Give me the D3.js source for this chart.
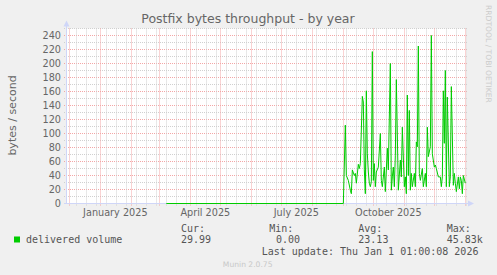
<!DOCTYPE html>
<html>
<head>
<meta charset="utf-8">
<script src="https://cdn.jsdelivr.net/npm/d3@7"></script>
<style>
  html, body { margin: 0; padding: 0; background: #f0f0f0; }
  svg { display: block; }
</style>
</head>
<body>
<div id="chart"></div>
<script>
// ── data (bytes / second, daily averages, day offset from 1 Sep 2025) ──
var seriesStart = '2025-09-01';
var zeroSince = '2025-03-08';        // flat zero from here up to seriesStart
var dayOffsets = [0, 2, 3, 5, 7, 8, 9, 11, 12, 13, 15, 16, 17, 19, 20, 21, 22, 23, 24, 25, 26, 27, 28,
  29, 30, 31, 32, 33, 35, 37, 38, 39, 41, 42, 44, 45, 47, 48, 49, 50, 51, 52, 53, 55, 57, 58, 59,
  61, 62, 63, 64, 65, 66, 67, 68, 69, 71, 72, 73, 74, 75, 76, 77, 79, 80, 82, 83, 84, 85, 87, 88,
  89, 91, 92, 93, 95, 97, 98, 99, 100, 101, 102, 103, 104, 106, 107, 108, 110, 111, 112, 113,
  115, 116, 117, 118, 119, 120, 122];
var values = [0, 112, 40, 33, 19, 14, 48, 40, 43, 29, 56, 50, 57, 153, 145, 48, 14, 161, 71, 45, 29, 24, 31,
  217, 33, 57, 24, 45, 52, 100, 33, 24, 52, 17, 79, 48, 200, 19, 38, 52, 24, 69, 177, 19, 62, 38, 109,
  24, 38, 14, 155, 40, 133, 19, 43, 24, 43, 24, 88, 81, 225, 43, 33, 50, 24, 43, 24, 109, 67, 81, 240,
  71, 52, 55, 50, 38, 38, 24, 38, 161, 86, 190, 24, 152, 24, 38, 167, 26, 43, 29, 17,
  38, 21, 38, 33, 14, 40, 29];

var yTicks = [0, 20, 40, 60, 80, 100, 120, 140, 160, 180, 200, 220, 240];
var monthLabels = ['2025-01-01', '2025-04-01', '2025-07-01', '2025-10-01'];
var legendHead = ['Cur:', 'Min:', 'Avg:', 'Max:'];
var legendVals = ['29.99', '0.00', '23.13', '45.83k'];

// ── layout ──
var W = 497, H = 275;
var X0 = 67, X1 = 467, Y0 = 203.5, Y1 = 28.5;
var graphEnd = new Date(Date.UTC(2026, 0, 2, 16, 0, 0));
var graphStart = new Date(graphEnd.getTime() - 400 * 864e5);
var FONT = '#666666', AXIS = '#cfd6f8';
var sans = 'DejaVu Sans, sans-serif', mono = 'DejaVu Sans Mono, monospace';

var parse = d3.utcParse('%Y-%m-%d');
var x = d3.scaleUtc().domain([graphStart, graphEnd]).range([X0, X1]);
var y = d3.scaleLinear().domain([0, 250]).range([Y0, Y1]);

var svg = d3.select('#chart').append('svg').attr('width', W).attr('height', H);
svg.append('rect').attr('width', W).attr('height', H).attr('fill', '#f0f0f0');
svg.append('rect').attr('x', X0).attr('y', Y1).attr('width', X1 - X0).attr('height', Y0 - Y1)
  .attr('fill', '#ffffff');

var crisp = function(v) { return Math.round(v - 0.5) + 0.5; };

// horizontal grid
var minorY = d3.range(0, 251, 10).filter(function(v) { return v % 20 !== 0; });
svg.append('g').selectAll('line').data(minorY).join('line')
  .attr('x1', X0 - 3).attr('x2', X1)
  .attr('y1', function(d) { return crisp(y(d)); }).attr('y2', function(d) { return crisp(y(d)); })
  .attr('stroke', '#d0d0d0').attr('stroke-dasharray', '1,1');
svg.append('g').selectAll('line').data(yTicks).join('line')
  .attr('x1', X0 - 3).attr('x2', X1)
  .attr('y1', function(d) { return crisp(y(d)); }).attr('y2', function(d) { return crisp(y(d)); })
  .attr('stroke', '#f3a6a6').attr('stroke-dasharray', '1,1');

// vertical grid: every 10 days (minor), months (major)
var months = d3.utcMonth.range(graphStart, graphEnd);
var tenDays = d3.utcDay.every(1).range(d3.utcDay.floor(graphStart), graphEnd)
  .filter(function(d, i) { return i % 10 === 0 && d >= graphStart; })
  .filter(function(d) {
    return months.every(function(m) { return Math.abs(x(m) - x(d)) >= 1; });
  });
svg.append('g').selectAll('line').data(tenDays).join('line')
  .attr('x1', function(d) { return crisp(x(d)); }).attr('x2', function(d) { return crisp(x(d)); })
  .attr('y1', Y1).attr('y2', Y0 + 3)
  .attr('stroke', '#d0d0d0').attr('stroke-dasharray', '1,1');
svg.append('g').selectAll('line').data(months).join('line')
  .attr('x1', function(d) { return crisp(x(d)); }).attr('x2', function(d) { return crisp(x(d)); })
  .attr('y1', Y1).attr('y2', Y0 + 3)
  .attr('stroke', '#f3a6a6').attr('stroke-dasharray', '1,1');

// axes + arrows
svg.append('line').attr('x1', X0 - 0.5).attr('x2', X0 - 0.5).attr('y1', Y0 + 0.5).attr('y2', Y1 - 4)
  .attr('stroke', AXIS);
svg.append('line').attr('x1', X0 - 3).attr('x2', X1 + 4).attr('y1', Y0).attr('y2', Y0)
  .attr('stroke', AXIS);
svg.append('path').attr('d', 'M' + (X0 - 3.5) + ',' + (Y1 - 2) + 'L' + (X0 - 0.5) + ',' + (Y1 - 8) +
  'L' + (X0 + 2.5) + ',' + (Y1 - 2) + 'Z').attr('fill', AXIS);
svg.append('path').attr('d', 'M' + (X1 + 1) + ',' + (Y0 - 3) + 'L' + (X1 + 7) + ',' + Y0 +
  'L' + (X1 + 1) + ',' + (Y0 + 3) + 'Z').attr('fill', AXIS);

// y labels
svg.append('g').selectAll('text').data(yTicks).join('text')
  .attr('x', 61).attr('y', function(d) { return y(d) + 3.5; })
  .attr('text-anchor', 'end').attr('font-family', sans).attr('font-size', 9.7)
  .attr('fill', FONT).text(function(d) { return d; });

// x labels, centred half a month after the month start
var fmtMonth = d3.utcFormat('%B %Y');
svg.append('g').selectAll('text').data(monthLabels.map(parse)).join('text')
  .attr('x', function(d) { return x(d3.utcDay.offset(d, 15)); }).attr('y', 216)
  .attr('text-anchor', 'middle').attr('font-family', sans).attr('font-size', 9.7)
  .attr('fill', FONT).text(fmtMonth);

// series
var t0 = parse(seriesStart);
var points = [{ t: parse(zeroSince), v: 0 }].concat(dayOffsets.map(function(d, i) {
  return { t: d3.utcDay.offset(t0, d), v: values[i] };
}));
svg.append('path').datum(points)
  .attr('d', d3.line().x(function(d) { return x(d.t); }).y(function(d) { return y(d.v); }))
  .attr('fill', 'none').attr('stroke', '#00cc00').attr('stroke-width', 1);

// titles
svg.append('text').attr('x', 248).attr('y', 23).attr('text-anchor', 'middle')
  .attr('font-family', sans).attr('font-size', 12.5).attr('fill', FONT)
  .text('Postfix bytes throughput - by year');
svg.append('text').attr('transform', 'translate(16,115.5) rotate(-90)').attr('text-anchor', 'middle')
  .attr('font-family', sans).attr('font-size', 11).attr('fill', FONT).text('bytes / second');
svg.append('text').attr('transform', 'translate(486,5) rotate(90)')
  .attr('font-family', sans).attr('font-size', 7.6).attr('fill', '#cccccc')
  .text('RRDTOOL / TOBI OETIKER');

// legend
var colX = [181, 269.3, 358.3, 446.7];
var valX = [181, 276, 358.3, 446.7];
var lg = svg.append('g').attr('font-family', mono).attr('font-size', 10).attr('fill', '#555555')
  .style('white-space', 'pre');
lg.selectAll('text.h').data(legendHead).join('text').attr('class', 'h')
  .attr('x', function(d, i) { return colX[i]; }).attr('y', 231.5).text(function(d) { return d; });
lg.append('rect').attr('x', 14).attr('y', 236.5).attr('width', 6).attr('height', 6)
  .attr('fill', '#00cc00');
lg.append('text').attr('x', 26).attr('y', 243).text('delivered volume');
lg.selectAll('text.v').data(legendVals).join('text').attr('class', 'v')
  .attr('x', function(d, i) { return valX[i]; }).attr('y', 243).text(function(d) { return d; });
lg.append('text').attr('x', 261.7).attr('y', 254.5).text('Last update: Thu Jan  1 01:00:08 2026');

svg.append('text').attr('x', 247.7).attr('y', 267).attr('text-anchor', 'middle')
  .attr('font-family', sans).attr('font-size', 7.6).attr('fill', '#c8c8c8').text('Munin 2.0.75');
</script>
</body>
</html>
